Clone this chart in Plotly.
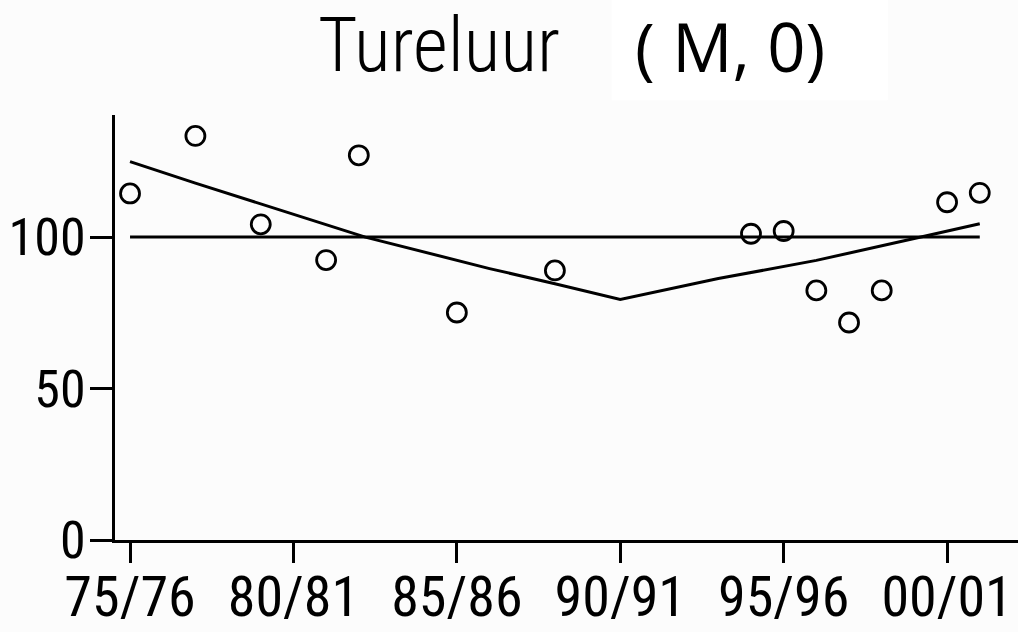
import plotly.graph_objects as go

# Tureluur index (75/76 = first season)
seasons = [1975, 1977, 1979, 1981, 1982, 1985, 1988, 1994, 1995, 1996, 1997, 1998, 2000, 2001]
index_values = [114.4, 133.4, 104.2, 92.4, 127.0, 75.1, 89.0, 101.1, 102.0, 82.4, 71.8, 82.4, 111.5, 114.6]

# fitted trend (two pieces, break at 90/91)
trend_years = [1975, 1977, 1982.2, 1986, 1988, 1990, 1993, 1996, 1999.2, 2001]
trend_values = [124.9, 117.8, 100.0, 89.6, 84.6, 79.4, 86.3, 92.3, 100.0, 104.4]

# reference level
ref_years = [1975, 2001]
ref_values = [100, 100]

tick_years = [1975, 1980, 1985, 1990, 1995, 2000]
tick_labels = ["75/76", "80/81", "85/86", "90/91", "95/96", "00/01"]
y_ticks = [0, 50, 100]

narrow = "Roboto Condensed, DejaVu Sans, sans-serif"

fig = go.Figure()

fig.add_trace(go.Scatter(x=ref_years, y=ref_values, mode="lines",
                         line=dict(color="black", width=3), hoverinfo="skip"))
fig.add_trace(go.Scatter(x=trend_years, y=trend_values, mode="lines",
                         line=dict(color="black", width=3), name="trend"))
fig.add_trace(go.Scatter(x=seasons, y=index_values, mode="markers", name="index",
                         marker=dict(symbol="circle-open", size=19, color="black",
                                     line=dict(width=2.8, color="black"))))

fig.update_layout(
    width=1018, height=632,
    margin=dict(l=115, r=0, t=115, b=92),
    paper_bgcolor="#fcfcfc",
    plot_bgcolor="#fcfcfc",
    showlegend=False,
    font=dict(family=narrow, color="black"),
    xaxis=dict(range=[1974.54, 2002.17], tickmode="array", tickvals=tick_years, ticktext=tick_labels,
               ticks="outside", ticklen=20, tickwidth=3, tickcolor="black",
               showline=True, linewidth=3, linecolor="black", automargin=False,
               showgrid=False, zeroline=False, tickfont=dict(size=56, family=narrow),
               ticklabelstandoff=-14),
    yaxis=dict(range=[0, 140.3], tickmode="array", tickvals=y_ticks,
               ticks="outside", ticklen=22, tickwidth=3, tickcolor="black",
               showline=True, linewidth=3, linecolor="black", automargin=False,
               showgrid=False, zeroline=False, tickfont=dict(size=52, family=narrow),
               ticklabelstandoff=-6),
    shapes=[dict(type="rect", xref="paper", yref="paper", x0=0.550, x1=0.856, y0=1.035, y1=1.2706,
                 fillcolor="white", line=dict(width=0), layer="below")],
    annotations=[
        dict(text="Tureluur", xref="paper", yref="paper", x=0.3583, y=1.165,
             xanchor="center", yanchor="middle", showarrow=False,
             font=dict(family=narrow, size=76, color="black", weight=300)),
        dict(text="( M, 0)", xref="paper", yref="paper", x=0.681, y=1.162,
             xanchor="center", yanchor="middle", showarrow=False,
             font=dict(family="Open Sans, Noto Sans, sans-serif", size=67, color="black")),
    ],
)

# drop the default 8px body margin so the figure fills the window
fig.write_html("out.html", config={"displayModeBar": False},
               post_script="document.body.style.margin='0';")
